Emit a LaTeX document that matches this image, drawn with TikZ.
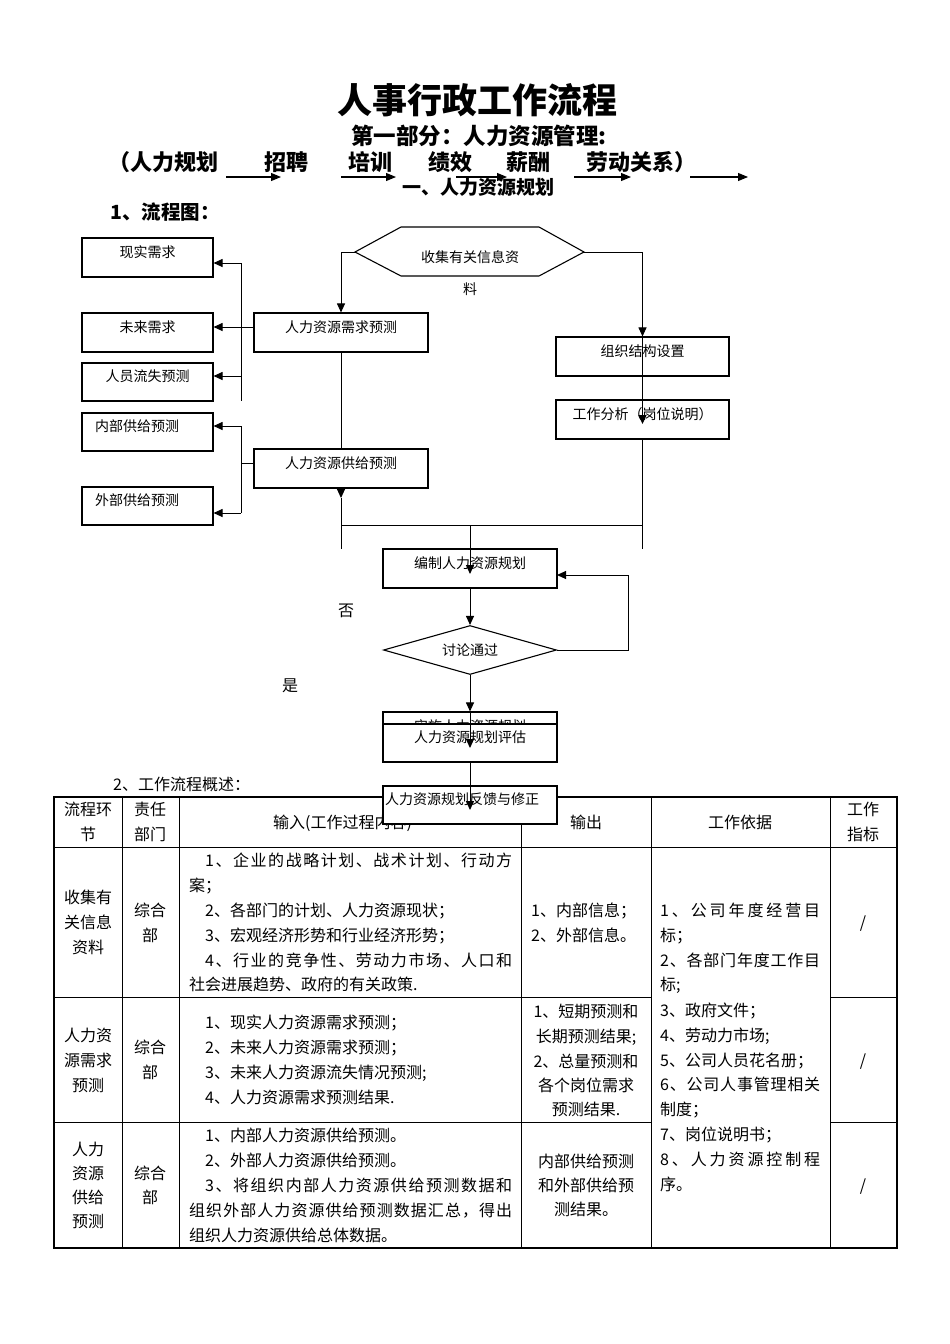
\documentclass[tikz,border=0pt]{standalone}
\usepackage{fontspec}
\setmainfont{Noto Sans CJK SC}
\usetikzlibrary{arrows.meta,shapes.geometric}
\def\gobbleone#1{}
\def\spreadloop#1#2\endspread{#1\ifx\relax#2\relax\expandafter\gobbleone\else\hfill\expandafter\spreadloop\fi#2\endspread}
\newcommand\spreadto[2]{\hbox to #1{\spreadloop#2\endspread}}
\begin{document}
\begin{tikzpicture}[x=1pt,y=-1pt,
  box/.style={draw,line width=1.1pt,fill=white,inner sep=0pt,font=\fontsize{14pt}{16pt}\selectfont,text height=6pt,text depth=6.4pt},
  conn/.style={line width=1pt},
  arr/.style={conn,-{Triangle[length=9pt,width=8pt]}},
  harr/.style={line width=1.1pt,-{Triangle[length=10pt,width=8pt]}},
  bt/.style={font=\fontsize{14pt}{16pt}\selectfont,inner sep=0pt},
  tt/.style={font=\fontsize{16pt}{18pt}\selectfont,inner sep=0pt,text height=14pt,text depth=2pt},
  hd/.style={font=\fontsize{22pt}{26pt}\selectfont\bfseries,inner sep=0pt},
  tline/.style={line width=1pt},
]
\fill[white] (0,0) rectangle (950,1344);
\useasboundingbox (0,0) rectangle (950,1344);

% ---------- headings ----------
\node[font=\fontsize{35pt}{40pt}\selectfont\bfseries,inner sep=0pt] (title) at (477,100) {人事行政工作流程};
\node[font=\fontsize{22.5pt}{26pt}\selectfont\bfseries,inner sep=0pt] (part) at (479,136) {第一部分：人力资源管理:};
\node[hd,anchor=west] (h1) at (108,162) {（人力规划};
\node[hd] (h2) at (286,162) {招聘};
\node[hd] (h3) at (370,162) {培训};
\node[hd] (h4) at (450,162) {绩效};
\node[hd] (h5) at (528,162) {薪酬};
\node[hd,anchor=west] (h6) at (586,162) {劳动关系）};
\coordinate (a1s) at (226,177); \coordinate (a1e) at (281,177);
\coordinate (a2s) at (341,177); \coordinate (a2e) at (396,177);
\coordinate (a3s) at (456,177); \coordinate (a3e) at (507,177);
\coordinate (a4s) at (574,177); \coordinate (a4e) at (631,177);
\coordinate (a5s) at (690,177); \coordinate (a5e) at (748,177);
\foreach \i in {1,...,5} \draw[harr] (a\i s) -- (a\i e);
\node[font=\fontsize{19pt}{22pt}\selectfont\bfseries,inner sep=0pt] (sec) at (478,187) {一、人力资源规划};
\node[font=\fontsize{19.5pt}{22pt}\selectfont\bfseries,inner sep=0pt,anchor=west] (flow) at (110,212) {1、流程图：};

% ---------- table ----------
\node[tt,anchor=west] (sum) at (113,784) {2、工作流程概述：};
\draw[line width=1.4pt] (54,797) rectangle (897,1248);
\foreach \x in {122,179,521,651,830} \draw[tline] (\x,797) -- (\x,1248);
\draw[tline] (54,847) -- (897,847);
\draw[tline] (54,997) -- (651,997);
\draw[tline] (830,997) -- (897,997);
\draw[tline] (54,1122) -- (651,1122);
\draw[tline] (830,1122) -- (897,1122);

% header
\node[tt] (c1a) at (88,809) {流程环};
\node[tt] (c1b) at (88,834) {节};
\node[tt] (c2a) at (150,809) {责任};
\node[tt] (c2b) at (150,834) {部门};
\node[tt,anchor=west] (c3) at (273,822) {输入(工作过程内容)};
\node[tt] (c4) at (586,822) {输出};
\node[tt] (c5) at (740,822) {工作依据};
\node[tt] (c6a) at (863,809) {工作};
\node[tt] (c6b) at (863,834) {指标};

% row 1
\node[tt] (r1a1) at (88,897) {收集有};
\node[tt] (r1a2) at (88,922) {关信息};
\node[tt] (r1a3) at (88,947) {资料};
\node[tt] (r1b1) at (150,910) {综合};
\node[tt] (r1b2) at (150,935) {部};
\node[tt,anchor=west] (r1c1) at (205,860) {\spreadto{307pt}{1、企业的战略计划、战术计划、行动方}};
\node[tt,anchor=west] (r1c2) at (189,885) {案；};
\node[tt,anchor=west] (r1c3) at (205,910) {2、各部门的计划、人力资源现状；};
\node[tt,anchor=west] (r1c4) at (205,935) {3、宏观经济形势和行业经济形势；};
\node[tt,anchor=west] (r1c5) at (205,960) {\spreadto{307pt}{4、行业的竞争性、劳动力市场、人口和}};
\node[tt,anchor=west] (r1c6) at (189,984) {社会进展趋势、政府的有关政策.};
\node[tt,anchor=west] (r1d1) at (531,910) {1、内部信息；};
\node[tt,anchor=west] (r1d2) at (531,935) {2、外部信息。};
\node[tt] (r1f) at (863,922) {/};

% merged basis column
\node[tt,anchor=west] (e1) at (660,910) {\spreadto{160pt}{1、公司年度经营目}};
\node[tt,anchor=west] (e2) at (660,935) {标；};
\node[tt,anchor=west] (e3) at (660,960) {\spreadto{160pt}{2、各部门年度工作目}};
\node[tt,anchor=west] (e4) at (660,984) {标;};
\node[tt,anchor=west] (e5) at (660,1010) {3、政府文件；};
\node[tt,anchor=west] (e6) at (660,1035) {4、劳动力市场;};
\node[tt,anchor=west] (e7) at (660,1060) {5、公司人员花名册；};
\node[tt,anchor=west] (e8) at (660,1084) {\spreadto{160pt}{6、公司人事管理相关}};
\node[tt,anchor=west] (e9) at (660,1109) {制度；};
\node[tt,anchor=west] (e10) at (660,1134) {7、岗位说明书；};
\node[tt,anchor=west] (e11) at (660,1159) {\spreadto{160pt}{8、人力资源控制程}};
\node[tt,anchor=west] (e12) at (660,1184) {序。};

% row 2
\node[tt] (r2a1) at (88,1035) {人力资};
\node[tt] (r2a2) at (88,1060) {源需求};
\node[tt] (r2a3) at (88,1085) {预测};
\node[tt] (r2b1) at (150,1047) {综合};
\node[tt] (r2b2) at (150,1072) {部};
\node[tt,anchor=west] (r2c1) at (205,1022) {1、现实人力资源需求预测；};
\node[tt,anchor=west] (r2c2) at (205,1047) {2、未来人力资源需求预测；};
\node[tt,anchor=west] (r2c3) at (205,1072) {3、未来人力资源流失情况预测;};
\node[tt,anchor=west] (r2c4) at (205,1097) {4、人力资源需求预测结果.};
\node[tt] (r2d1) at (586,1011) {1、短期预测和};
\node[tt] (r2d2) at (586,1036) {长期预测结果;};
\node[tt] (r2d3) at (586,1061) {2、总量预测和};
\node[tt] (r2d4) at (586,1085) {各个岗位需求};
\node[tt] (r2d5) at (586,1109) {预测结果.};
\node[tt] (r2f) at (863,1060) {/};

% row 3
\node[tt] (r3a1) at (88,1149) {人力};
\node[tt] (r3a2) at (88,1173) {资源};
\node[tt] (r3a3) at (88,1197) {供给};
\node[tt] (r3a4) at (88,1221) {预测};
\node[tt] (r3b1) at (150,1173) {综合};
\node[tt] (r3b2) at (150,1197) {部};
\node[tt,anchor=west] (r3c1) at (205,1135) {1、内部人力资源供给预测。};
\node[tt,anchor=west] (r3c2) at (205,1160) {2、外部人力资源供给预测。};
\node[tt,anchor=west] (r3c3) at (205,1185) {\spreadto{307pt}{3、将组织内部人力资源供给预测数据和}};
\node[tt,anchor=west] (r3c4) at (189,1210) {\spreadto{323pt}{组织外部人力资源供给预测数据汇总，得出}};
\node[tt,anchor=west] (r3c5) at (189,1235) {组织人力资源供给总体数据。};
\node[tt] (r3d1) at (586,1161) {内部供给预测};
\node[tt] (r3d2) at (586,1185) {和外部供给预};
\node[tt] (r3d3) at (586,1209) {测结果。};
\node[tt] (r3f) at (863,1185) {/};

% ---------- flowchart ----------
% hexagon
\coordinate (hexL) at (355,252);
\coordinate (hexR) at (584,252);
\draw[line width=1.1pt,fill=white] (hexL) -- (401,227) -- (539,227) -- (hexR) -- (539,276) -- (401,276) -- cycle;
\node[bt] (hexT) at (470,257) {收集有关信息资};
\node[bt] (hexT2) at (470,289) {料};

% left boxes
\node[box,minimum width=131pt,minimum height=39pt] (xq) at (147.5,257.5) {现实需求};
\node[box,minimum width=131pt,minimum height=39pt] (wl) at (147.5,332.5) {未来需求};
\node[box,minimum width=131pt,minimum height=38pt] (ls) at (147.5,382) {人员流失预测};
\node[box,minimum width=131pt,minimum height=38pt,text width=131pt,align=left] (nb) at (147.5,432) {\hspace*{13pt}内部供给预测};
\node[box,minimum width=131pt,minimum height=38pt,text width=131pt,align=left] (wb) at (147.5,506) {\hspace*{13pt}外部供给预测};

% demand box and arrow through to supply
\node[box,minimum width=174pt,minimum height=39pt] (dm) at (341,332.5) {人力资源需求预测};
\coordinate (gjTip) at (341,498);
\draw[arr] (dm.south) -- (gjTip);
\node[box,minimum width=174pt,minimum height=39pt] (gj) at (341,468.5) {人力资源供给预测};

% right boxes
\node[box,minimum width=173pt,minimum height=39pt] (zz) at (642.5,356.5) {组织结构设置};
\node[box,minimum width=173pt,minimum height=39pt] (gz) at (642.5,419.5) {工作分析（岗位说明）};

% centre column
\node[box,minimum width=174pt,minimum height=39pt] (bz) at (470,568.5) {编制人力资源规划};
\node[diamond,draw,line width=1.1pt,fill=white,aspect=3.5,inner sep=0pt,minimum width=173pt,minimum height=49pt,font=\fontsize{14pt}{16pt}\selectfont] (tl) at (470,650) {讨论通过};
\node[box,minimum width=174pt,minimum height=39pt] (ss) at (470,731.5) {实施人力资源规划};
\node[box,minimum width=174pt,minimum height=38pt] (pg) at (470,743) {人力资源规划评估};
\node[box,minimum width=174pt,minimum height=38pt] (fk) at (470,805) {\hspace*{-16pt}人力资源规划反馈与修正};

\node[tt] (no) at (346,610) {否};
\node[tt] (yes) at (290,685) {是};

% connectors
\draw[arr] (hexL) -| (dm.north);
\draw[arr] (hexR) -| (zz.north);
\coordinate (gzTip) at (642.5,424);
\draw[arr] (zz.north) -- (gzTip);

\coordinate (vL1) at (241,263);
\coordinate (vL2) at (241,401);
\coordinate (mA) at (254,327);
\coordinate (lsA) at (241,376);
\draw[conn] (vL1) -- (vL2);
\draw[arr] (vL1) -- (xq.east |- vL1);
\draw[arr] (mA) -- (wl.east |- mA);
\draw[arr] (lsA) -- (ls.east |- lsA);

\coordinate (vS1) at (241,426);
\coordinate (vS2) at (241,513);
\coordinate (sA) at (254,463);
\draw[conn] (vS1) -- (vS2);
\draw[conn] (sA) -- (vS1 |- sA);
\draw[arr] (vS1) -- (nb.east |- vS1);
\draw[arr] (vS2) -- (wb.east |- vS2);

\coordinate (jl) at (341,525);
\coordinate (jr) at (642.5,525);
\coordinate (jc) at (470,525);
\coordinate (endL) at (341,549);
\coordinate (endR) at (642.5,549);
\draw[conn] (jl) -- (jr);
\draw[conn] (gjTip) -- (endL);
\draw[conn] (gz.south) -- (endR);
\coordinate (bzTip) at (470,574);
\draw[arr] (jc) -- (bzTip);
\draw[arr] (bz.south) -- (tl.north);
\coordinate (loop) at (628,575);
\coordinate (bzIn) at (557,575);
\draw[arr] (tl.east) -| (loop) -- (bzIn);
\draw[arr] (tl.south) -- (ss.north);
\coordinate (pgTip) at (470,748);
\draw[arr] (ss.north) -- (pgTip);
\coordinate (fkTip) at (470,810);
\draw[arr] (pg.south) -- (fkTip);
\end{tikzpicture}
\end{document}
